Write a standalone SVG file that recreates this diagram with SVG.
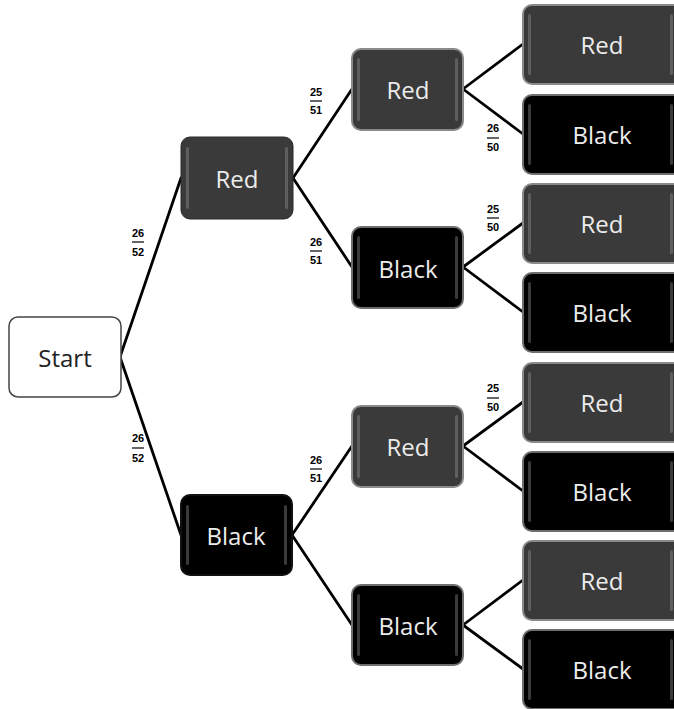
<svg xmlns="http://www.w3.org/2000/svg" width="674" height="709" viewBox="0 0 674 709">
<style>
.bg{fill:#ffffff}
.edge{stroke:#000;stroke-width:2.8;fill:none;stroke-linecap:round}
.start{fill:#fff;stroke:#444;stroke-width:1.5}
.red1{fill:#3a3a3a;stroke:#2a2a2a;stroke-width:1}
.red{fill:#3a3a3a;stroke:#8a8a8a;stroke-width:2}
.blk{fill:#000;stroke:#6e6e6e;stroke-width:2}
.stripeR{fill:#5e5e5e}
.stripeB{fill:#3a3a3a}
.lbl{font-family:"Open Sans","Noto Sans",sans-serif;font-size:24px;fill:#ececec;text-anchor:middle;dominant-baseline:central}
.lblS{font-family:"Open Sans","Noto Sans",sans-serif;font-size:24px;fill:#222;text-anchor:middle;dominant-baseline:central}
.fr{font-family:"Liberation Sans","Open Sans",sans-serif;font-size:11px;font-weight:bold;fill:#000;text-anchor:middle}
.bar{stroke:#000;stroke-width:1.2}
</style>
<rect class="bg" x="0" y="0" width="674" height="709"/>
<g id="connectors">
<path class="edge" d="M120,357 L181,178 M120,357 L181,535"/>
<path class="edge" d="M293,178 L352,89 M293,178 L352,267"/>
<path class="edge" d="M292,535 L352,446 M292,535 L352,625"/>
<path class="edge" d="M463,89 L523,44 M463,89 L523,134"/>
<path class="edge" d="M463,267 L523,223 M463,267 L523,312"/>
<path class="edge" d="M463,446 L523,402 M463,446 L523,491"/>
<path class="edge" d="M463,625 L523,580 M463,625 L523,669"/>
</g>
<g id="labels">
<text class="fr" x="138" y="237">26</text><line class="bar" x1="132" y1="242" x2="144" y2="242"/><text class="fr" x="138" y="256">52</text>
<text class="fr" x="138" y="442">26</text><line class="bar" x1="132" y1="448" x2="144" y2="448"/><text class="fr" x="138" y="462">52</text>
<text class="fr" x="316" y="96">25</text><line class="bar" x1="310" y1="101" x2="322" y2="101"/><text class="fr" x="316" y="114">51</text>
<text class="fr" x="316" y="246">26</text><line class="bar" x1="310" y1="251" x2="322" y2="251"/><text class="fr" x="316" y="264">51</text>
<text class="fr" x="316" y="464">26</text><line class="bar" x1="310" y1="469" x2="322" y2="469"/><text class="fr" x="316" y="482">51</text>
<text class="fr" x="493" y="132">26</text><line class="bar" x1="487" y1="138" x2="499" y2="138"/><text class="fr" x="493" y="151">50</text>
<text class="fr" x="493" y="213">25</text><line class="bar" x1="487" y1="218" x2="499" y2="218"/><text class="fr" x="493" y="231">50</text>
<text class="fr" x="493" y="392">25</text><line class="bar" x1="487" y1="398" x2="499" y2="398"/><text class="fr" x="493" y="411">50</text>
</g>
<g id="start">
<rect class="start" x="9" y="317" width="112" height="80" rx="9"/>
<text class="lblS" x="65" y="357">Start</text>
</g>
<g id="n-red">
<rect class="red1" x="181" y="137" width="112" height="82" rx="9"/>
<rect class="stripeR" x="186" y="147" width="3" height="62" rx="1.5"/><rect class="stripeR" x="285" y="147" width="3" height="62" rx="1.5"/>
<text class="lbl" x="237" y="178">Red</text>
</g>
<g id="n-black">
<rect class="blk" x="181" y="495" width="111" height="80" rx="9" style="stroke:#111"/>
<rect class="stripeB" x="186" y="505" width="3" height="60" rx="1.5"/><rect class="stripeB" x="284" y="505" width="3" height="60" rx="1.5"/>
<text class="lbl" x="236" y="535">Black</text>
</g>
<g id="n-red-red">
<rect class="red" x="352" y="49" width="111" height="81" rx="9"/>
<rect class="stripeR" x="357" y="58" width="3" height="63" rx="1.5"/><rect class="stripeR" x="455" y="58" width="3" height="63" rx="1.5"/>
<text class="lbl" x="408" y="89">Red</text>
</g>
<g id="n-red-black">
<rect class="blk" x="352" y="227" width="111" height="81" rx="9"/>
<rect class="stripeB" x="357" y="236" width="3" height="63" rx="1.5"/><rect class="stripeB" x="455" y="236" width="3" height="63" rx="1.5"/>
<text class="lbl" x="408" y="268">Black</text>
</g>
<g id="n-black-red">
<rect class="red" x="352" y="406" width="111" height="81" rx="9"/>
<rect class="stripeR" x="357" y="415" width="3" height="63" rx="1.5"/><rect class="stripeR" x="455" y="415" width="3" height="63" rx="1.5"/>
<text class="lbl" x="408" y="446">Red</text>
</g>
<g id="n-black-black">
<rect class="blk" x="352" y="585" width="111" height="80" rx="9"/>
<rect class="stripeB" x="357" y="594" width="3" height="62" rx="1.5"/><rect class="stripeB" x="455" y="594" width="3" height="62" rx="1.5"/>
<text class="lbl" x="408" y="625">Black</text>
</g>
<g id="n-rrr">
<rect class="red" x="523" y="5" width="160" height="79" rx="9"/>
<rect class="stripeR" x="528" y="14" width="3" height="61" rx="1.5"/><rect class="stripeR" x="670" y="14" width="3" height="61" rx="1.5"/>
<text class="lbl" x="602" y="44">Red</text>
</g>
<g id="n-rrb">
<rect class="blk" x="523" y="95" width="160" height="79" rx="9"/>
<rect class="stripeB" x="528" y="104" width="3" height="61" rx="1.5"/><rect class="stripeB" x="670" y="104" width="3" height="61" rx="1.5"/>
<text class="lbl" x="602" y="134">Black</text>
</g>
<g id="n-rbr">
<rect class="red" x="523" y="184" width="160" height="79" rx="9"/>
<rect class="stripeR" x="528" y="193" width="3" height="61" rx="1.5"/><rect class="stripeR" x="670" y="193" width="3" height="61" rx="1.5"/>
<text class="lbl" x="602" y="223">Red</text>
</g>
<g id="n-rbb">
<rect class="blk" x="523" y="273" width="160" height="79" rx="9"/>
<rect class="stripeB" x="528" y="282" width="3" height="61" rx="1.5"/><rect class="stripeB" x="670" y="282" width="3" height="61" rx="1.5"/>
<text class="lbl" x="602" y="312">Black</text>
</g>
<g id="n-brr">
<rect class="red" x="523" y="363" width="160" height="79" rx="9"/>
<rect class="stripeR" x="528" y="372" width="3" height="61" rx="1.5"/><rect class="stripeR" x="670" y="372" width="3" height="61" rx="1.5"/>
<text class="lbl" x="602" y="402">Red</text>
</g>
<g id="n-brb">
<rect class="blk" x="523" y="452" width="160" height="79" rx="9"/>
<rect class="stripeB" x="528" y="461" width="3" height="61" rx="1.5"/><rect class="stripeB" x="670" y="461" width="3" height="61" rx="1.5"/>
<text class="lbl" x="602" y="491">Black</text>
</g>
<g id="n-bbr">
<rect class="red" x="523" y="541" width="160" height="79" rx="9"/>
<rect class="stripeR" x="528" y="550" width="3" height="61" rx="1.5"/><rect class="stripeR" x="670" y="550" width="3" height="61" rx="1.5"/>
<text class="lbl" x="602" y="580">Red</text>
</g>
<g id="n-bbb">
<rect class="blk" x="523" y="630" width="160" height="79" rx="9"/>
<rect class="stripeB" x="528" y="639" width="3" height="61" rx="1.5"/><rect class="stripeB" x="670" y="639" width="3" height="61" rx="1.5"/>
<text class="lbl" x="602" y="669">Black</text>
</g>
</svg>
